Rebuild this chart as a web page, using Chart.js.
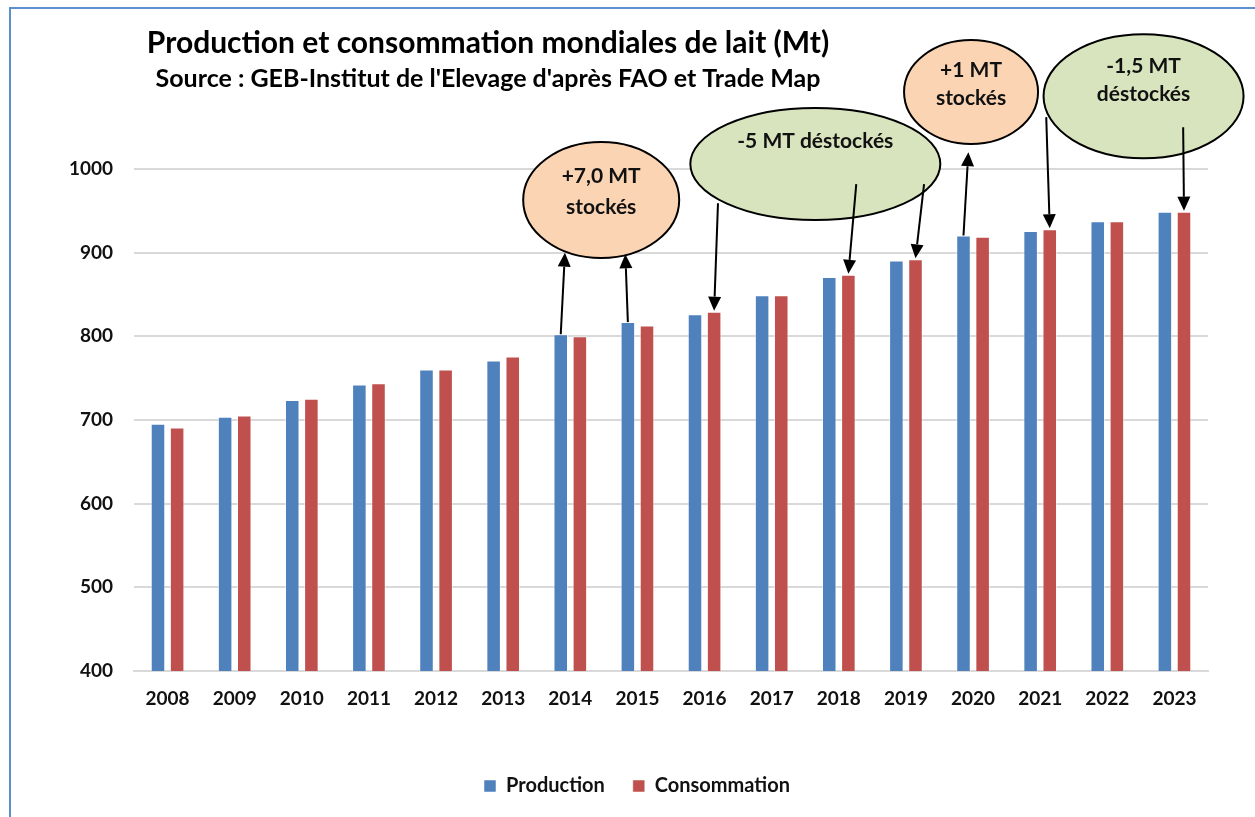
<!DOCTYPE html>
<html>
<head>
<meta charset="utf-8">
<script src="https://cdn.jsdelivr.net/npm/chart.js@4"></script>
<style>
  html, body { margin: 0; padding: 0; background: #fff; }
  #wrap { width: 1255px; height: 817px; position: relative; }
</style>
</head>
<body>
<div id="wrap"><canvas id="milkChart" width="1255" height="817"></canvas></div>
<script>
// data (Mt)
const years = ['2008','2009','2010','2011','2012','2013','2014','2015','2016','2017','2018','2019','2020','2021','2022','2023'];
const production   = [695.5, 704, 724, 742.5, 760.5, 771, 802.5, 817, 826.5, 849, 871, 890.5, 920.5, 926, 937.5, 949];
const consommation = [691, 705.5, 725.5, 744, 760.5, 776, 800, 813, 829.5, 849, 873.5, 892, 919, 928, 937.5, 949];

const titleText = 'Production et consommation mondiales de lait (Mt)';
const subtitleText = "Source : GEB-Institut de l'Elevage d'après FAO et Trade Map";

// callouts: centre given in axis units (category index, Mt), radii in px
const callouts = [
  { lines: ['+7,0 MT', 'stockés'], fill: '#FBD4B4', cx: 6.46, cy: 963, rx: 78, ry: 58, dy: [-24, 7] },
  { lines: ['-5 MT déstockés'], fill: '#D7E4BD', cx: 9.65, cy: 1006, rx: 125, ry: 56, dy: [-23] },
  { lines: ['+1 MT', 'stockés'], fill: '#FBD4B4', cx: 11.97, cy: 1092, rx: 67, ry: 52, dy: [-22, 6] },
  { lines: ['-1,5 MT', 'déstockés'], fill: '#D7E4BD', cx: 14.54, cy: 1087, rx: 100, ry: 62, dy: [-30, -2] }
];

// arrows: one end on a bar top (dataset, index), the other free (index, Mt); up = head away from bar
const arrows = [
  { ds: 0, i: 6,  fx: 5.92,  fy: 900,  up: true },
  { ds: 0, i: 7,  fx: 6.82,  fy: 898,  up: true },
  { ds: 1, i: 8,  fx: 8.20,  fy: 959,  up: false },
  { ds: 1, i: 10, fx: 10.26, fy: 982,  up: false },
  { ds: 1, i: 11, fx: 11.27, fy: 982,  up: false },
  { ds: 0, i: 12, fx: 11.93, fy: 1020, up: true },
  { ds: 1, i: 13, fx: 13.09, fy: 1062, up: false },
  { ds: 1, i: 15, fx: 15.13, fy: 1050, up: false }
];

const FONT = 'Lato, "Open Sans", sans-serif';

function drawArrow(ctx, x1, y1, x2, y2) {
  const ang = Math.atan2(y2 - y1, x2 - x1);
  const len = 14, half = 6.5;
  const bx = x2 - len * Math.cos(ang), by = y2 - len * Math.sin(ang);
  ctx.beginPath();
  ctx.moveTo(x1, y1);
  ctx.lineTo(bx, by);
  ctx.stroke();
  ctx.beginPath();
  ctx.moveTo(x2, y2);
  ctx.lineTo(bx + half * Math.sin(ang), by - half * Math.cos(ang));
  ctx.lineTo(bx - half * Math.sin(ang), by + half * Math.cos(ang));
  ctx.closePath();
  ctx.fill();
}

const decorations = {
  id: 'decorations',
  beforeDraw(chart) {
    const ctx = chart.ctx;
    ctx.save();
    // outer frame (left + top edges only are visible)
    ctx.strokeStyle = '#5B8FD0';
    ctx.lineWidth = 2;
    ctx.beginPath();
    ctx.moveTo(10, 817);
    ctx.lineTo(10, 8);
    ctx.lineTo(1255, 8);
    ctx.stroke();
    // titles
    ctx.fillStyle = '#000';
    ctx.textAlign = 'center';
    ctx.textBaseline = 'alphabetic';
    ctx.font = 'bold 30px ' + FONT;
    ctx.fillText(titleText, 488, 53);
    ctx.font = 'bold 25px ' + FONT;
    ctx.fillText(subtitleText, 488, 87);
    ctx.restore();
  },
  afterDatasetsDraw(chart) {
    const ctx = chart.ctx;
    const xs = chart.scales.x, ys = chart.scales.y;
    ctx.save();
    callouts.forEach(c => {
      const cx = xs.getPixelForValue(c.cx), cy = ys.getPixelForValue(c.cy);
      ctx.beginPath();
      ctx.ellipse(cx, cy, c.rx, c.ry, 0, 0, Math.PI * 2);
      ctx.fillStyle = c.fill;
      ctx.fill();
      ctx.lineWidth = 2;
      ctx.strokeStyle = '#000';
      ctx.stroke();
      ctx.fillStyle = '#111';
      ctx.font = 'bold 21px ' + FONT;
      ctx.textAlign = 'center';
      ctx.textBaseline = 'middle';
      c.lines.forEach((t, k) => ctx.fillText(t, cx, cy + c.dy[k]));
    });
    ctx.strokeStyle = '#000';
    ctx.fillStyle = '#000';
    ctx.lineWidth = 2;
    arrows.forEach(a => {
      const bar = chart.getDatasetMeta(a.ds).data[a.i];
      const fx = xs.getPixelForValue(a.fx), fy = ys.getPixelForValue(a.fy);
      if (a.up) drawArrow(ctx, bar.x, bar.y, fx, fy);
      else drawArrow(ctx, fx, fy, bar.x, bar.y - 1);
    });
    ctx.restore();
  }
};

new Chart(document.getElementById('milkChart'), {
  type: 'bar',
  data: {
    labels: years,
    datasets: [
      { label: 'Production', data: production, backgroundColor: '#4F81BD', borderColor: 'rgba(255,255,255,0.5)', borderWidth: 1 },
      { label: 'Consommation', data: consommation, backgroundColor: '#C0504D', borderColor: 'rgba(255,255,255,0.5)', borderWidth: 1 }
    ]
  },
  options: {
    responsive: false,
    animation: false,
    layout: { padding: { top: 169, right: 47, bottom: 11, left: 66 } },
    datasets: { bar: { categoryPercentage: 0.57, barPercentage: 0.76 } },
    plugins: {
      title: { display: false },
      tooltip: { enabled: false },
      legend: {
        position: 'bottom',
        labels: {
          boxWidth: 12, boxHeight: 12, padding: 28,
          color: '#111',
          font: { family: FONT, size: 20, weight: 'bold' }
        }
      }
    },
    scales: {
      x: {
        grid: { display: false },
        border: { color: '#D9D9D9', width: 2 },
        ticks: { color: '#111', padding: 8, font: { family: FONT, size: 19, weight: 'bold' } },
        afterFit: s => { s.height = 77; }
      },
      y: {
        min: 400, max: 1000,
        ticks: { stepSize: 100, color: '#111', padding: 21, font: { family: FONT, size: 19, weight: 'bold' },
                 callback: v => String(v) },
        grid: { color: '#D9D9D9', lineWidth: 2, drawTicks: false },
        border: { display: false },
        afterFit: s => { s.width = 68; }
      }
    }
  },
  plugins: [decorations]
});
</script>
</body>
</html>
